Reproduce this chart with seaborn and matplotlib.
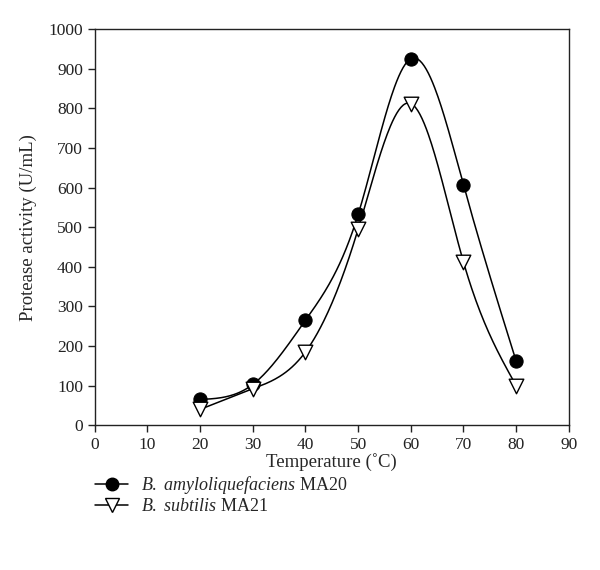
import numpy as np
import pandas as pd
import matplotlib
matplotlib.use("Agg")
import matplotlib.pyplot as plt
import seaborn as sns
from matplotlib.lines import Line2D

# --- datos ---
temperatura = [20, 30, 40, 50, 60, 70, 80]
amylo_ma20 = [65, 103, 265, 532, 925, 607, 162]
subtilis_ma21 = [40, 92, 185, 495, 812, 412, 100]
x_ticks = [0, 10, 20, 30, 40, 50, 60, 70, 80, 90]
y_ticks = [0, 100, 200, 300, 400, 500, 600, 700, 800, 900, 1000]


def spline_natural(x, y, n=300):
    """Spline cúbico natural (como la curva suavizada de SigmaPlot)."""
    x = np.asarray(x, float)
    y = np.asarray(y, float)
    k = len(x)
    h = np.diff(x)
    A = np.zeros((k, k))
    b = np.zeros(k)
    A[0, 0] = A[-1, -1] = 1
    for i in range(1, k - 1):
        A[i, i - 1] = h[i - 1]
        A[i, i] = 2 * (h[i - 1] + h[i])
        A[i, i + 1] = h[i]
        b[i] = 6 * ((y[i + 1] - y[i]) / h[i] - (y[i] - y[i - 1]) / h[i - 1])
    M = np.linalg.solve(A, b)
    xs = np.linspace(x[0], x[-1], n)
    idx = np.clip(np.searchsorted(x, xs) - 1, 0, k - 2)
    x0, x1 = x[idx], x[idx + 1]
    hh = x1 - x0
    ys = (M[idx] * (x1 - xs) ** 3 / (6 * hh) + M[idx + 1] * (xs - x0) ** 3 / (6 * hh)
          + (y[idx] / hh - M[idx] * hh / 6) * (x1 - xs)
          + (y[idx + 1] / hh - M[idx + 1] * hh / 6) * (xs - x0))
    return xs, ys


sns.set_style("ticks")
plt.rcParams.update({
    'font.family': ['Liberation Serif', 'DejaVu Serif'],
    'mathtext.fontset': 'custom',
    'mathtext.rm': 'Liberation Serif',
    'mathtext.it': 'Liberation Serif:italic',
    'font.size': 12,
    'axes.linewidth': 1.0,
    'xtick.direction': 'out',
    'ytick.direction': 'out',
    'xtick.major.size': 5,
    'ytick.major.size': 5,
    'xtick.color': '#222222',
    'ytick.color': '#222222',
})

fig = plt.figure(figsize=(6.0, 5.7), dpi=100)
ax = fig.add_axes([0.158, 0.254, 0.79, 0.695])

df = pd.DataFrame({'T': temperatura, 'amylo': amylo_ma20, 'subtilis': subtilis_ma21})

for col in ['amylo', 'subtilis']:
    xs, ys = spline_natural(df['T'], df[col])
    sns.lineplot(x=xs, y=ys, ax=ax, color='black', lw=1.1, estimator=None, sort=False)

sns.scatterplot(data=df, x='T', y='amylo', ax=ax, marker='o', s=90,
                color='black', edgecolor='black', linewidth=0.8, zorder=5)
sns.scatterplot(data=df, x='T', y='subtilis', ax=ax, marker='v', s=110,
                color='white', edgecolor='black', linewidth=1.0, zorder=5)

ax.set_xlim(0, 90)
ax.set_ylim(0, 1000)
ax.set_xticks(x_ticks)
ax.set_yticks(y_ticks)
ax.tick_params(labelsize=12.5, width=1.0)
for s in ax.spines.values():
    s.set_color('#222222')
ax.set_xlabel('Temperature (˚C)', fontsize=13.5, labelpad=0)
ax.set_ylabel('Protease activity (U/mL)', fontsize=13.5, labelpad=8)

handles = [
    Line2D([], [], color='black', lw=1.1, marker='o', markersize=9,
           markerfacecolor='black', markeredgecolor='black'),
    Line2D([], [], color='black', lw=1.1, marker='v', markersize=10,
           markerfacecolor='white', markeredgecolor='black'),
]
labels = ['$\\it{B.}$ $\\it{amyloliquefaciens}$ MA20', '$\\it{B.}$ $\\it{subtilis}$ MA21']
fig.legend(handles, labels, loc='upper left', bbox_to_anchor=(0.147, 0.181),
           frameon=False, fontsize=13, handlelength=1.8, handletextpad=0.7,
           labelspacing=0.1, borderaxespad=0)

fig.savefig('out.png', dpi=100)
